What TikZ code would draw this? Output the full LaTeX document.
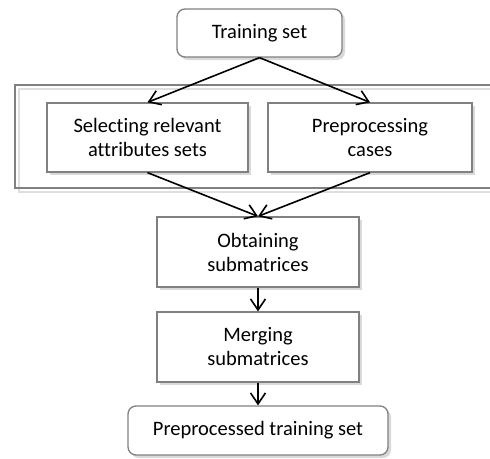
\documentclass[tikz,border=0pt]{standalone}
\usepackage{fontspec}
\setmainfont{Carlito}[Ligatures=CommonOff]
\usetikzlibrary{arrows.meta,shadows}
\tikzset{
  box/.style={draw=black!50,line width=1.3pt,fill=white,align=center,inner sep=0pt,
    font=\fontsize{20.5}{24}\selectfont,
    drop shadow={shadow xshift=3pt,shadow yshift=-3pt,fill=black!15,opacity=1}},
  endbox/.style={box,rounded corners=8pt},
  arr/.style={-{Straight Barb[length=11pt,width=15pt,line width=1.6pt]},line width=1.6pt},
}
\begin{document}
\begin{tikzpicture}[x=1pt,y=-1pt]
\useasboundingbox (0,0) rectangle (490,458);
% group frame
\draw[black!13,line width=1.5pt] (19,89) rectangle (495,192);
\draw[black!50,line width=1.5pt] (15,85) rectangle (495,188);
\node[endbox,minimum width=165pt,minimum height=48pt] (train) at (259.5,33) {Training set};
\node[box,minimum width=201pt,minimum height=69pt] (select) at (147.5,137.5) {Selecting relevant\\attributes sets};
\node[box,minimum width=204pt,minimum height=69pt] (prep) at (370,137.5) {Preprocessing\\cases};
\node[box,minimum width=202pt,minimum height=70pt] (obtain) at (258,252) {Obtaining\\submatrices};
\node[box,minimum width=202pt,minimum height=70pt] (merge) at (258,347) {Merging\\submatrices};
\node[endbox,minimum width=260pt,minimum height=49pt] (out) at (258,430.5) {Preprocessed training set};
\draw[arr] (train.south) -- (select.north);
\draw[arr] (train.south) -- (prep.north);
\draw[arr] (select.south) -- (obtain.north);
\draw[arr] (prep.south) -- (obtain.north);
\draw[arr] (obtain.south) -- (merge.north);
\draw[arr] (merge.south) -- (out.north);
\end{tikzpicture}
\end{document}
